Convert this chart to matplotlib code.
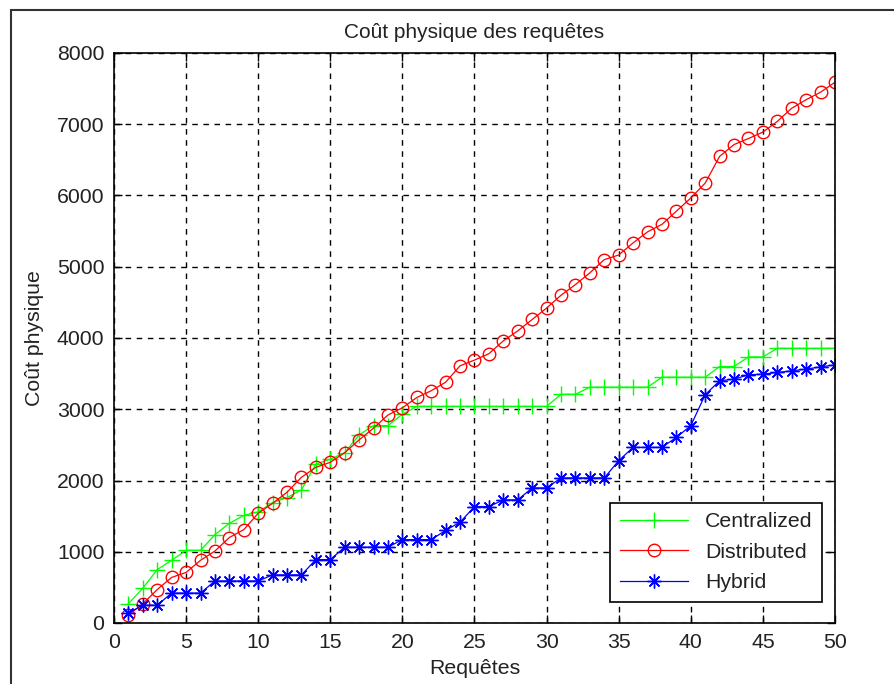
import matplotlib
matplotlib.use("Agg")
import matplotlib.pyplot as plt
from matplotlib.patches import Rectangle

plt.rcParams['font.family'] = ['Liberation Sans', 'DejaVu Sans']
plt.rcParams['font.size'] = 15.3
plt.rcParams['text.color'] = '#222222'
plt.rcParams['xtick.labelcolor'] = '#222222'
plt.rcParams['ytick.labelcolor'] = '#222222'
plt.rcParams['axes.labelcolor'] = '#222222'

requetes = list(range(1, 51))

centralized = [270, 490, 750, 880, 1020, 1020, 1240, 1400, 1510, 1560,
               1690, 1760, 1870, 2230, 2300, 2390, 2640, 2770, 2770, 2930,
               3040, 3040, 3040, 3040, 3040, 3040, 3040, 3040, 3040, 3040,
               3210, 3210, 3310, 3310, 3310, 3310, 3310, 3450, 3450, 3450,
               3450, 3600, 3600, 3735, 3735, 3855, 3855, 3855, 3855, 3855]

distributed = [110, 270, 470, 640, 710, 880, 1010, 1200, 1310, 1540,
               1680, 1835, 2045, 2185, 2255, 2390, 2570, 2735, 2920, 3020,
               3165, 3260, 3380, 3610, 3690, 3780, 3960, 4100, 4260, 4420,
               4600, 4750, 4915, 5100, 5165, 5335, 5490, 5595, 5780, 5965,
               6175, 6550, 6715, 6800, 6890, 7040, 7225, 7345, 7450, 7590]

hybrid = [140, 250, 250, 420, 420, 420, 590, 590, 590, 590,
          675, 675, 675, 890, 890, 1065, 1065, 1065, 1065, 1170,
          1170, 1170, 1300, 1415, 1634, 1634, 1728, 1728, 1896, 1896,
          2036, 2036, 2036, 2036, 2279, 2465, 2465, 2465, 2605, 2769,
          3205, 3399, 3423, 3483, 3493, 3516, 3539, 3563, 3595, 3623]

fig = plt.figure(figsize=(8.95, 6.84), dpi=100)
ax = fig.add_axes([114 / 895, 1 - 623 / 684, (835 - 114) / 895, (623 - 53) / 684])

# border around the whole figure (cut off at right and bottom)
fig.patches.append(Rectangle((11 / 895, -0.1), 1.2, 1.1 - 10.5 / 684,
                             transform=fig.transFigure, fill=False,
                             edgecolor='#333333', linewidth=1.5))

ax.plot(requetes, centralized, color=(0, 1, 0), marker='+', markersize=11,
        markeredgewidth=1.0, linewidth=0.9, label='Centralized')
ax.plot(requetes, distributed, color=(1, 0, 0), marker='o', markersize=9,
        markerfacecolor='none', markeredgewidth=1.0, linewidth=0.9, label='Distributed')
ax.plot(requetes, hybrid, color=(0, 0, 1), marker=(8, 2, 0), markersize=10,
        markeredgewidth=1.0, linewidth=0.9, label='Hybrid')

ax.set_xlim(0, 50)
ax.set_ylim(0, 8000)
ax.set_xticks(range(0, 51, 5))
ax.set_yticks(range(0, 8001, 1000))
ax.grid(True, color='black', linestyle=(0, (4, 4)), linewidth=1.0)
ax.tick_params(direction='in', top=True, right=True, length=6, width=1, pad=7)
for s in ax.spines.values():
    s.set_linewidth(1.2)

ax.set_title('Coût physique des requêtes', fontsize=15, pad=11)
ax.set_xlabel('Requêtes', labelpad=5)
ax.set_ylabel('Coût physique', labelpad=9)

leg = ax.legend(loc='lower right', bbox_to_anchor=(1 - 13 / 721, 21 / 570),
                fancybox=False, framealpha=1, edgecolor='black',
                handlelength=3.2, labelspacing=0.55, borderaxespad=0,
                borderpad=0.45)
leg.get_frame().set_linewidth(1.2)

fig.savefig('out.png', dpi=100)
